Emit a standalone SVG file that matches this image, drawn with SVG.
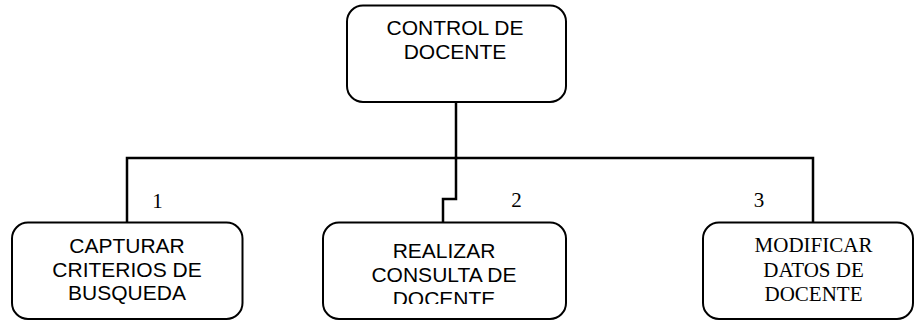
<svg xmlns="http://www.w3.org/2000/svg" width="915" height="320" viewBox="0 0 915 320">
<style>
.box{fill:#fff;stroke:#000;stroke-width:2}
.conn{fill:none;stroke:#000;stroke-width:2.5;stroke-linecap:square}
.sans{font-family:"Liberation Sans",Arial,sans-serif;font-size:21px;fill:#000;text-anchor:middle}
.serif{font-family:"Liberation Serif","Times New Roman",serif;font-size:21px;fill:#000;text-anchor:middle}
</style>
<defs>
<clipPath id="clip2"><rect x="323" y="222" width="243" height="82"/></clipPath>
</defs>
<rect width="915" height="320" fill="#fff"/>
<g id="connectors">
<path class="conn" d="M456 102 V158"/>
<path class="conn" d="M127 222 V158 H813 V222"/>
<path class="conn" d="M456 158 V199 H443 V222"/>
</g>
<g id="node-control">
<rect class="box" x="347" y="5.5" width="219" height="96.5" rx="16"/>
<text class="sans" x="455" y="35">CONTROL DE</text>
<text class="sans" x="455" y="59">DOCENTE</text>
</g>
<g id="node-capturar">
<rect class="box" x="12" y="222.5" width="230.5" height="96.5" rx="16"/>
<text class="sans" x="127" y="253">CAPTURAR</text>
<text class="sans" x="127" y="277">CRITERIOS DE</text>
<text class="sans" x="127" y="300">BUSQUEDA</text>
<text class="serif" x="157.5" y="208">1</text>
</g>
<g id="node-realizar">
<rect class="box" x="323" y="222.5" width="243" height="96.5" rx="16"/>
<g clip-path="url(#clip2)">
<text class="sans" x="444" y="258">REALIZAR</text>
<text class="sans" x="444" y="282">CONSULTA DE</text>
<text class="sans" x="444" y="306">DOCENTE</text>
</g>
<text class="serif" x="516.5" y="207">2</text>
</g>
<g id="node-modificar">
<rect class="box" x="703" y="222.5" width="210" height="96.5" rx="16"/>
<text class="serif" x="813.5" y="252">MODIFICAR</text>
<text class="serif" x="813.5" y="277">DATOS DE</text>
<text class="serif" x="813.5" y="301">DOCENTE</text>
<text class="serif" x="759" y="207">3</text>
</g>
</svg>
